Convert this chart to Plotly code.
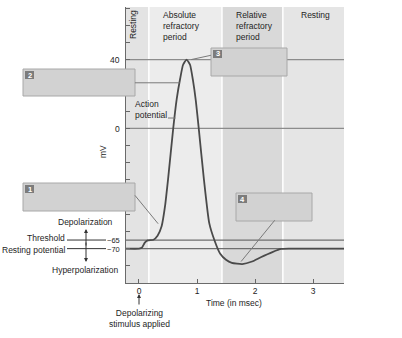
import plotly.graph_objects as go

# Membrane potential trace (ms, mV)
time_ms = [-0.224, 0.0, 0.05, 0.10, 0.15, 0.25, 0.32, 0.39, 0.45, 0.50, 0.59, 0.65,
           0.71, 0.76, 0.82, 0.88, 0.93, 0.98, 1.03, 1.12, 1.21, 1.31, 1.40, 1.50,
           1.60, 1.78, 1.95, 2.10, 2.30, 2.45, 2.60, 3.534]
membrane_mv = [-70, -70, -69.5, -66.5, -65.2, -64.8, -62.5, -57, -45, -30, 0, 17,
               29, 37, 40, 37, 28, 16, 0, -30, -55, -66, -73, -76.5,
               -78.3, -79, -77.5, -75, -72, -70.2, -70, -70]

# Period bands along the time axis
period_edges = [-0.224, 0.17, 1.43, 2.48, 3.534]
period_fill = ["#e3e3e3", "#ececec", "#d9d9d9", "#e5e5e5"]

reference_levels = [40, 0]
threshold_mv = -65
resting_mv = -70
x_ticks = [0, 1, 2, 3]

X_RANGE = [period_edges[0], period_edges[-1]]
Y_RANGE = [-90, 70.6]

# plot area in pixels: left 126, right 344, top 7, bottom 283
L, R, T, B = 126, 344, 7, 283


def px(xp):
    return (xp - L) / (R - L)


def py(yp):
    return (B - yp) / (B - T)


FONT = "Liberation Sans, Arial, sans-serif"
TXT = "#1e1e1e"

fig = go.Figure()

fig.add_trace(go.Scatter(
    x=time_ms, y=membrane_mv, mode="lines",
    line=dict(color="#4a4a4a", width=1.8, shape="spline", smoothing=0.5),
    hoverinfo="skip", showlegend=False,
))

shapes = []
# background bands
for i, col in enumerate(period_fill):
    shapes.append(dict(type="rect", xref="x", yref="paper",
                       x0=period_edges[i], x1=period_edges[i + 1], y0=0, y1=1,
                       fillcolor=col, line=dict(width=0), layer="below"))
# white separators between bands
for e in period_edges[1:-1]:
    shapes.append(dict(type="line", xref="x", yref="paper", x0=e, x1=e, y0=0, y1=1,
                       line=dict(color="white", width=1.5), layer="below"))

# reference lines at 40 and 0 mV
for lv in reference_levels:
    shapes.append(dict(type="line", xref="paper", yref="y", x0=0, x1=1, y0=lv, y1=lv,
                       line=dict(color="#8c8c8c", width=1.2), layer="below"))
# threshold and resting lines, inside plot and extended to their labels
for lv in (threshold_mv, resting_mv):
    shapes.append(dict(type="line", xref="paper", yref="y", x0=0, x1=1, y0=lv, y1=lv,
                       line=dict(color="#6e6e6e", width=1.2), layer="below"))
    shapes.append(dict(type="line", xref="paper", yref="y", x0=px(67), x1=px(106),
                       y0=lv, y1=lv, line=dict(color="#333333", width=1)))

# labelled call-out boxes: (number, left, top, right, bottom) in pixels
boxes = [("2", 23, 69, 135, 96), ("1", 23, 183, 135, 211),
         ("3", 211, 48, 287, 76), ("4", 236, 193, 312, 221)]
for num, x0, y0, x1, y1 in boxes:
    shapes.append(dict(type="rect", xref="paper", yref="paper",
                       x0=px(x0), x1=px(x1), y0=py(y1), y1=py(y0),
                       fillcolor="#d2d2d2", line=dict(color="#a8a8a8", width=1)))
    shapes.append(dict(type="rect", xref="paper", yref="paper",
                       x0=px(x0 + 2), x1=px(x0 + 11), y0=py(y0 + 10), y1=py(y0 + 2),
                       fillcolor="#7c7c7c", line=dict(width=0)))

# leader lines (data coordinates)
leaders = [((-0.07, 26.5), (0.70, 26.5)),
           ((-0.07, -39.0), (0.33, -55.5)),
           ((1.24, 42.5), (0.90, 40.0)),
           ((2.34, -53.5), (1.76, -77.5)),
           ((0.50, 6.0), (0.63, 6.0))]
for (ax0, ay0), (ax1, ay1) in leaders:
    shapes.append(dict(type="line", xref="x", yref="y", x0=ax0, y0=ay0, x1=ax1, y1=ay1,
                       line=dict(color="#7a7a7a", width=1)))

annotations = []


def label(text, x, y, size=8.5, xanchor="left", yanchor="middle", align="left",
          color=TXT, angle=0, bold=False):
    if bold:
        text = "<b>" + text + "</b>"
    annotations.append(dict(text=text, xref="paper", yref="paper", x=px(x), y=py(y),
                            xanchor=xanchor, yanchor=yanchor, align=align,
                            showarrow=False, textangle=angle,
                            font=dict(family=FONT, size=size, color=color)))


for num, x0, y0, x1, y1 in boxes:
    label(num, x0 + 6.5, y0 + 6, size=7.5, xanchor="center", color="white", bold=True)

label("Resting", 133, 25, xanchor="center", angle=-90)
label("Absolute<br>refractory<br>period", 161, 26)
label("Relative<br>refractory<br>period", 234, 26)
label("Resting", 299, 15)
label("Action<br>potential", 133, 109)

label("40", 122, 60.5, xanchor="right")
label("0", 122, 128.5, xanchor="right")
label("\u221265", 122, 240, size=7.5, xanchor="right")
label("\u221270", 122, 249.5, size=7.5, xanchor="right")
label("mV", 103, 152, xanchor="center", angle=-90)

label("Depolarization", 85, 222, xanchor="center")
label("Threshold", 67, 238, xanchor="right")
label("Resting potential", 67, 249.5, xanchor="right")
label("Hyperpolarization", 85, 270, xanchor="center")

label("Time (in msec)", 234, 302.5, xanchor="center")
label("Depolarizing<br>stimulus applied", 139, 318, xanchor="center", align="center")


def arrow(x, head_y, tail_y):
    annotations.append(dict(xref="paper", yref="paper", x=px(x), y=py(head_y),
                            ax=0, ay=tail_y - head_y, axref="pixel", ayref="pixel",
                            text="", showarrow=True, arrowhead=2, arrowsize=0.8,
                            arrowwidth=1, arrowcolor="#333333"))


# double-headed polarity arrow
arrow(86, 229, 247)
arrow(86, 262, 241)
# stimulus arrow
arrow(139, 294, 306)

fig.update_layout(
    width=402, height=338,
    margin=dict(l=L, r=402 - R, t=T, b=338 - B),
    paper_bgcolor="white", plot_bgcolor="white",
    shapes=shapes, annotations=annotations, showlegend=False,
    xaxis=dict(range=X_RANGE, tickvals=x_ticks, ticktext=[str(v) for v in x_ticks],
               ticks="inside", ticklen=4, tickcolor="#666666", showgrid=False,
               zeroline=False, showline=True, linecolor="#6a6a6a", linewidth=1,
               tickfont=dict(family=FONT, size=8.5, color=TXT), fixedrange=True),
    yaxis=dict(range=Y_RANGE, tickvals=list(range(-90, 71, 10)),
               ticktext=[""] * 17, ticks="inside", ticklen=4, tickcolor="#666666",
               showgrid=False, zeroline=False, showline=True, linecolor="#6a6a6a",
               linewidth=1, fixedrange=True),
)

fig.write_html("out.html")
